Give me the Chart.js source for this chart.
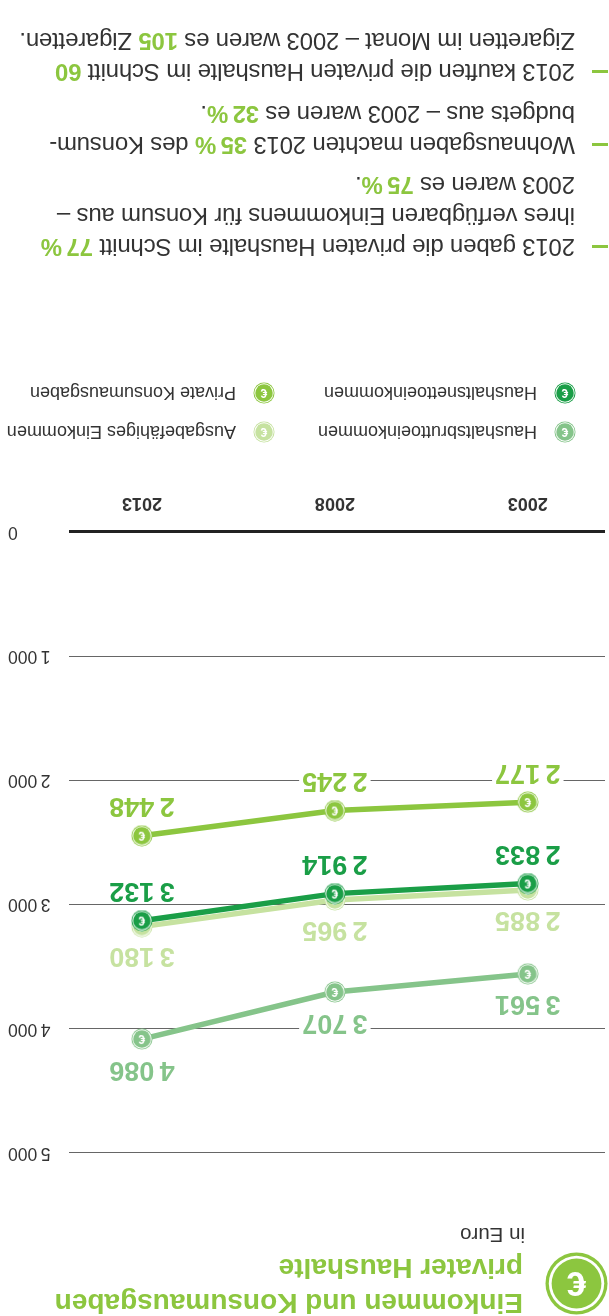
<!DOCTYPE html>
<html lang="de">
<head>
<meta charset="utf-8">
<title>Einkommen und Konsumausgaben privater Haushalte</title>
<script src="https://cdn.jsdelivr.net/npm/chart.js@4"></script>
<style>
  html, body { margin: 0; padding: 0; background: #fff; }
  body { width: 609px; height: 1316px; overflow: hidden; }
  /* die Vorlage steht auf dem Kopf */
  #seite {
    position: relative; width: 609px; height: 1316px; transform: rotate(180deg);
    font-family: "Liberation Sans", Arial, sans-serif; color: #333;
  }
  #seite > * { position: absolute; }
  #diagramm { left: 0; top: 150px; width: 609px; height: 680px; }
  #titel { left: 86px; top: -5px; font-size: 28px; line-height: 35px; font-weight: bold; color: #8cc63f; white-space: nowrap; }
  #einheit { left: 84px; top: 69px; font-size: 20.5px; line-height: 24px; }
  .eintrag { font-size: 18px; line-height: 22px; white-space: nowrap; }
  .punkte { left: 34px; font-size: 24px; letter-spacing: -0.2px; line-height: 31px; white-space: nowrap; }
  .punkte b { color: #8cc63f; }
  .strich { left: 1px; width: 16px; height: 3px; background: #8cc63f; }
</style>
</head>
<body>
<div id="seite">
  <canvas id="diagramm" width="609" height="680"></canvas>
  <div id="titel">Einkommen und Konsumausgaben<br>privater Haushalte</div>
  <div id="einheit">in Euro</div>
  <div class="strich" style="top:1068px"></div>
  <div class="punkte" style="top:1053px">2013 gaben die privaten Haushalte im Schnitt <b>77&#8201;%</b><br>ihres verfügbaren Einkommens für Konsum aus –<br>2003 waren es <b>75&#8201;%</b>.</div>
  <div class="strich" style="top:1170px"></div>
  <div class="punkte" style="top:1155px">Wohnausgaben machten 2013 <b>35&#8201;%</b> des Konsum-<br>budgets aus – 2003 waren es <b>32&#8201;%</b>.</div>
  <div class="strich" style="top:1243px"></div>
  <div class="punkte" style="top:1228px">2013 kauften die privaten Haushalte im Schnitt <b>60</b><br>Zigaretten im Monat – 2003 waren es <b>105</b> Zigaretten.</div>
</div>

<script>
// Daten
const jahre = [2003, 2008, 2013];
const achsenWerte = [0, 1000, 2000, 3000, 4000, 5000];
const konsum = [2177, 2245, 2448];
const netto = [2833, 2914, 3132];
const verfuegbar = [2885, 2965, 3180];
const brutto = [3561, 3707, 4086];

const farbeKonsum = '#8cc63f';
const farbeNetto = '#1a9e47';
const farbeVerfuegbar = '#c6e2a0';
const farbeBrutto = '#85c48a';

// formatiert 3132 als "3 132" mit schmalem Leerzeichen
function zahl(wert) {
    return String(wert).replace(/\B(?=(\d{3})+(?!\d))/g, '\u2009');
}

// Euro-Münze, wird als Punkt im Diagramm und als Symbol in der Legende benutzt
function muenze(farbe, groesse) {
    const c = document.createElement('canvas');
    c.width = groesse;
    c.height = groesse;
    const ctx = c.getContext('2d');
    const m = groesse / 2;

    ctx.beginPath();
    ctx.arc(m, m, m - 0.5, 0, Math.PI * 2);
    ctx.fillStyle = farbe;
    ctx.fill();
    ctx.beginPath();
    ctx.arc(m, m, m * 0.88, 0, Math.PI * 2);
    ctx.fillStyle = '#fff';
    ctx.fill();
    ctx.beginPath();
    ctx.arc(m, m, m * 0.79, 0, Math.PI * 2);
    ctx.fillStyle = farbe;
    ctx.fill();

    ctx.fillStyle = '#fff';
    ctx.font = 'bold ' + Math.round(groesse * 0.55) + 'px "Liberation Sans"';
    ctx.textAlign = 'center';
    ctx.textBaseline = 'middle';
    ctx.fillText('€', m, m + groesse * 0.03);
    return c;
}

// Legende und Titelsymbol
const seite = document.getElementById('seite');

function legendenEintrag(name, farbe, x, y) {
    const symbol = muenze(farbe, 22);
    symbol.style.left = x + 'px';
    symbol.style.top = (y - 11) + 'px';
    seite.appendChild(symbol);
    const text = document.createElement('div');
    text.className = 'eintrag';
    text.textContent = name;
    text.style.left = (x + 39) + 'px';
    text.style.top = (y - 11) + 'px';
    seite.appendChild(text);
}

legendenEintrag('Haushaltsbruttoeinkommen', farbeBrutto, 33, 884);
legendenEintrag('Ausgabefähiges Einkommen', farbeVerfuegbar, 334, 884);
legendenEintrag('Haushaltsnettoeinkommen', farbeNetto, 33, 923);
legendenEintrag('Private Konsumausgaben', farbeKonsum, 334, 923);

const grosseMuenze = muenze(farbeKonsum, 63);
grosseMuenze.style.left = '1px';
grosseMuenze.style.top = '1px';
seite.appendChild(grosseMuenze);

// Werte an den Punkten, mit weißem Grund damit die Gitterlinie unterbrochen wird
const wertePlugin = {
    id: 'werte',
    afterDatasetsDraw(chart) {
        const ctx = chart.ctx;
        ctx.save();
        ctx.font = 'bold 27px "Liberation Sans"';
        ctx.textAlign = 'center';
        ctx.textBaseline = 'middle';
        chart.data.datasets.forEach((ds, i) => {
            chart.getDatasetMeta(i).data.forEach((punkt, j) => {
                const text = zahl(ds.data[j].y);
                const b = ctx.measureText(text).width + 6;
                const y = punkt.y + ds.abstand;
                ctx.fillStyle = '#fff';
                ctx.fillRect(punkt.x - b / 2, y - 11, b, 22);
                ctx.fillStyle = ds.borderColor;
                ctx.fillText(text, punkt.x, y);
            });
        });
        ctx.restore();
    }
};

function reihe(name, werte, farbe, abstand) {
    return {
        label: name,
        data: jahre.map((jahr, i) => ({ x: jahr, y: werte[i] })),
        borderColor: farbe,
        backgroundColor: farbe,
        borderWidth: 5.5,
        tension: 0,
        pointStyle: muenze(farbe, 22),
        abstand: abstand
    };
}

new Chart(document.getElementById('diagramm').getContext('2d'), {
    type: 'line',
    data: {
        // erste Reihe liegt oben
        datasets: [
            reihe('Haushaltsnettoeinkommen', netto, farbeNetto, 30),
            reihe('Private Konsumausgaben', konsum, farbeKonsum, 30),
            reihe('Ausgabefähiges Einkommen', verfuegbar, farbeVerfuegbar, -29),
            reihe('Haushaltsbruttoeinkommen', brutto, farbeBrutto, -30)
        ]
    },
    plugins: [wertePlugin],
    options: {
        responsive: false,
        animation: false,
        layout: { autoPadding: false, padding: { left: 4, right: 8, top: 13.5, bottom: 0 } },
        plugins: { legend: { display: false }, tooltip: { enabled: false } },
        scales: {
            x: {
                type: 'linear',
                min: 2001,
                max: 2014.89,
                afterBuildTicks: scale => { scale.ticks = jahre.map(v => ({ value: v })); },
                afterFit: scale => {
                    scale.height = 46;
                    scale.paddingLeft = 0;
                    scale.paddingRight = 0;
                },
                grid: { display: false },
                border: { display: false },
                ticks: {
                    padding: 10,
                    autoSkip: false,
                    maxRotation: 0,
                    color: '#333',
                    font: { family: '"Liberation Sans"', size: 18, weight: 'bold' },
                    callback: v => String(v)
                }
            },
            y: {
                position: 'right',
                min: 0,
                max: 5000,
                afterBuildTicks: scale => { scale.ticks = achsenWerte.map(v => ({ value: v })); },
                afterFit: scale => { scale.width = 61; },
                grid: {
                    drawTicks: false,
                    color: c => c.tick.value === 0 ? '#222' : '#666',
                    lineWidth: c => c.tick.value === 0 ? 3 : 1
                },
                border: { display: false },
                ticks: {
                    crossAlign: 'far',
                    padding: 0,
                    color: '#333',
                    font: { family: '"Liberation Sans"', size: 17.5 },
                    callback: v => zahl(v)
                }
            }
        }
    }
});
</script>
</body>
</html>
